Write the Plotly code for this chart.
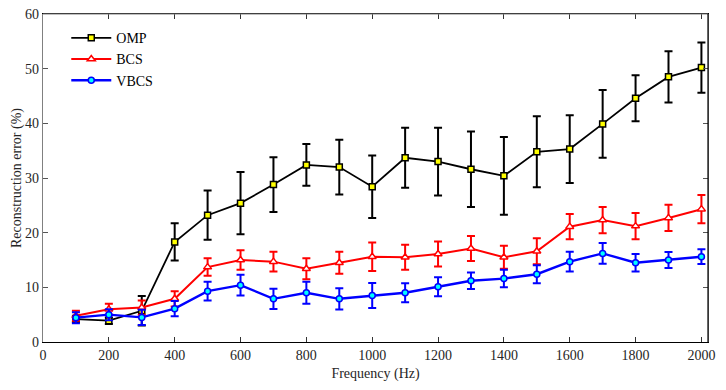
import plotly.graph_objects as go

freq = [100, 200, 300, 400, 500, 600, 700, 800, 900, 1000,
        1100, 1200, 1300, 1400, 1500, 1600, 1700, 1800, 1900, 2000]

omp = [4.2, 3.9, 5.7, 18.3, 23.2, 25.4, 28.8, 32.4, 32.0, 28.4,
       33.7, 33.0, 31.6, 30.4, 34.8, 35.3, 39.9, 44.6, 48.5, 50.2]
omp_err = [0.6, 0.6, 2.7, 3.4, 4.5, 5.7, 5.0, 3.8, 5.0, 5.7,
           5.5, 6.2, 6.9, 7.1, 6.5, 6.2, 6.2, 4.2, 4.7, 4.6]

bcs = [4.8, 6.0, 6.3, 7.9, 13.7, 15.0, 14.7, 13.4, 14.5, 15.6,
       15.5, 16.1, 17.1, 15.5, 16.6, 21.1, 22.3, 21.2, 22.7, 24.3]
bcs_err = [0.9, 1.0, 1.3, 1.4, 1.6, 1.8, 1.8, 1.9, 2.0, 2.6,
           2.3, 2.3, 2.3, 2.1, 2.4, 2.3, 2.4, 2.4, 2.4, 2.6]

vbcs = [4.45, 5.0, 4.5, 6.1, 9.3, 10.4, 7.9, 9.0, 7.9, 8.5,
        9.0, 10.1, 11.2, 11.6, 12.4, 14.7, 16.2, 14.5, 15.0, 15.6]
vbcs_err = [1.0, 1.0, 1.4, 1.4, 1.7, 1.9, 1.85, 2.0, 1.95, 2.3,
            1.75, 1.75, 1.5, 1.6, 1.65, 1.8, 1.9, 1.6, 1.45, 1.35]

x_ticks = [0, 200, 400, 600, 800, 1000, 1200, 1400, 1600, 1800, 2000]
y_ticks = [0, 10, 20, 30, 40, 50, 60]

FONT = "Liberation Serif"

fig = go.Figure()

fig.add_trace(go.Scatter(
    x=freq, y=omp, name="OMP", mode="lines+markers",
    line=dict(color="black", width=1.8),
    marker=dict(symbol="square", size=6, color="#ffff00",
                line=dict(color="black", width=1.5)),
    error_y=dict(type="data", array=omp_err, color="black",
                 thickness=2, width=4),
))
fig.add_trace(go.Scatter(
    x=freq, y=bcs, name="BCS", mode="lines+markers",
    line=dict(color="#ff0000", width=2),
    marker=dict(symbol="triangle-up", size=7, color="white",
                line=dict(color="#ff0000", width=1.5)),
    error_y=dict(type="data", array=bcs_err, color="#ff0000",
                 thickness=2, width=4),
))
fig.add_trace(go.Scatter(
    x=freq, y=vbcs, name="VBCS", mode="lines+markers",
    line=dict(color="#0000ff", width=2.4),
    marker=dict(symbol="circle", size=6, color="#00ffff",
                line=dict(color="#0000ff", width=1.5)),
    error_y=dict(type="data", array=vbcs_err, color="#0000ff",
                 thickness=2, width=4),
))

fig.update_layout(
    width=726, height=390,
    margin=dict(l=43, r=18, t=14, b=48, autoexpand=False),
    plot_bgcolor="white", paper_bgcolor="white",
    font=dict(family=FONT, size=14, color="#262626"),
    showlegend=True,
    legend=dict(x=0.035, y=0.975, xanchor="left", yanchor="top",
                bgcolor="rgba(0,0,0,0)", borderwidth=0,
                font=dict(family=FONT, size=14, color="black"),
                tracegroupgap=0, itemwidth=40),
    xaxis=dict(
        range=[0, 2020], tickvals=x_ticks, ticktext=[str(v) for v in x_ticks],
        showgrid=False, zeroline=False, automargin=False,
        showline=True, linecolor="black", linewidth=1.2,
        mirror="ticks", ticks="inside", ticklen=5, tickcolor="#333333",
        tickfont=dict(family=FONT, size=14, color="#262626"),
        title=dict(text="Frequency (Hz)", standoff=6,
                   font=dict(family=FONT, size=14, color="#262626")),
    ),
    yaxis=dict(
        range=[0, 60], tickvals=y_ticks, ticktext=[str(v) for v in y_ticks],
        showgrid=False, zeroline=False, automargin=False,
        showline=True, linecolor="#808080", linewidth=1.2,
        mirror="ticks", ticks="inside", ticklen=5, tickcolor="#555555",
        tickfont=dict(family=FONT, size=14, color="#262626"),
        title=dict(text="Reconstruction error (%)", standoff=0,
                   font=dict(family=FONT, size=14, color="#262626")),
    ),
    shapes=[
        dict(type="line", xref="paper", yref="paper", x0=0, x1=1, y0=1, y1=1,
             line=dict(color="#808080", width=1.2), layer="above"),
        dict(type="line", xref="paper", yref="paper", x0=1, x1=1, y0=0, y1=1,
             line=dict(color="black", width=1.2), layer="above"),
    ],
)

fig.write_html("out.html")
